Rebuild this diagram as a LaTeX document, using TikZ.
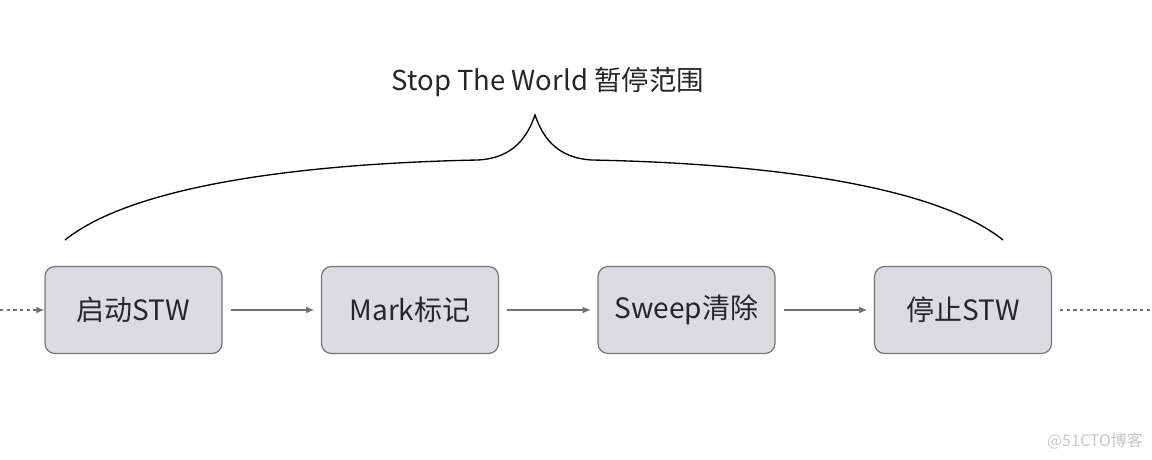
\documentclass[tikz,border=0pt]{standalone}
\usepackage{fontspec}
\setmainfont{Noto Sans CJK SC}
\usepackage{tikz}
\usetikzlibrary{arrows.meta}
\definecolor{boxfill}{RGB}{220,220,224}
\definecolor{boxline}{RGB}{118,118,118}
\definecolor{arrowgray}{RGB}{112,112,112}
\definecolor{textgray}{RGB}{38,38,38}
\tikzset{
  phase/.style={draw=boxline, fill=boxfill, rounded corners=7.5pt, line width=0.9pt,
    minimum width=132.75pt, minimum height=65.25pt, inner sep=0pt,
    font=\fontsize{21}{24}\selectfont, text=textgray},
  flow/.style={draw=arrowgray, line width=0.8pt, -{Latex[length=6pt,width=5pt]}},
}
\begin{document}
\begin{tikzpicture}[x=0.75pt,y=0.75pt,yscale=-1,xscale=1]
\useasboundingbox (0,0) rectangle (1152,460);

%Shape: Rounded Rectangles
\node [phase] (start) at (133.5,310) {启动STW};
\node [phase] (mark) at (410,310) {Mark标记};
\node [phase] (sweep) at (686.5,310) {Sweep清除};
\node [phase] (stop) at (963,310) {停止STW};

%Coordinates for the open ends
\coordinate (in) at (0,310);
\coordinate (out) at (1152,310);

%Straight Lines
\draw [flow, dash pattern={on 2.5pt off 2.5pt}] (in) -- (start.west);
\draw [flow] ([xshift=6pt]start.east) -- ([xshift=-5pt]mark.west);
\draw [flow] ([xshift=6pt]mark.east) -- ([xshift=-5pt]sweep.west);
\draw [flow] ([xshift=6pt]sweep.east) -- ([xshift=-5pt]stop.west);
\draw [draw=arrowgray, line width=0.8pt, dash pattern={on 2.5pt off 2.5pt}] ([xshift=6pt]stop.east) -- (out);

%Curve Lines: brace
\draw [line width=1pt] (65,240) .. controls (150,172) and (380,162) .. (478,160)
  .. controls (515,158) and (528,135) .. (535,115)
  .. controls (542,135) and (555,158) .. (592,160)
  .. controls (690,162) and (918,172) .. (1003,240) ;

% Text Node
\node [font=\fontsize{20.6}{23}\selectfont, text=textgray] (title) at (548,82) {Stop The World 暂停范围};
% Text Node
\node [font=\fontsize{12}{14}\selectfont, text=black!22] (mark51) at (1095,441) {@51CTO博客};

\end{tikzpicture}
\end{document}
